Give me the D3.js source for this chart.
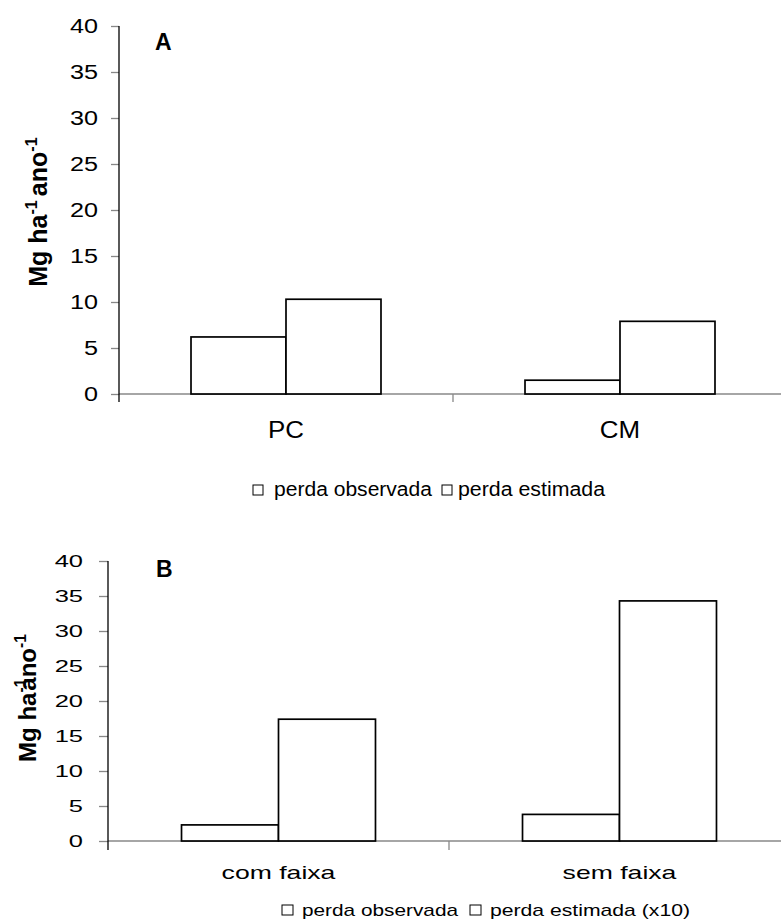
<!DOCTYPE html>
<html>
<head>
<meta charset="utf-8">
<script src="https://cdn.jsdelivr.net/npm/d3@7/dist/d3.min.js"></script>
<style>
body { margin: 0; background: #fff; }
text { font-family: Arial, "Liberation Sans", sans-serif; fill: #000; }
</style>
</head>
<body>
<svg id="chart" width="781" height="921"></svg>
<script>
// values (Mg ha-1 ano-1)
var seriesNames = ["perda observada", "perda estimada"];
var catsA = ["PC", "CM"];
var observadaA = [6.2, 1.5];
var estimadaA = [10.3, 7.9];
var catsB = ["com faixa", "sem faixa"];
var observadaB = [2.3, 3.8];
var estimadaB = [17.4, 34.3];
var yTicks = [0, 5, 10, 15, 20, 25, 30, 35, 40];
var legendA = ["perda observada", "perda estimada"];
var legendB = ["perda observada", "perda estimada (x10)"];

var svg = d3.select("#chart");
var grey = "#888";

// the figure's text is a bit wider than plain Arial, squeeze it out sideways
function widen(sel, sx) {
  sel.attr("transform", function() {
    var x = +d3.select(this).attr("x") || 0;
    return "translate(" + x + ",0) scale(" + sx + ",1) translate(" + (-x) + ",0)";
  });
}

function drawPanel(p) {
  var g = svg.append("g");

  var y = d3.scaleLinear().domain([0, 40]).range([p.bottom, p.top]);
  var x = d3.scaleBand().domain(p.cats).range([p.left, p.right]);
  var x1 = d3.scaleBand().domain(seriesNames)
    .range([0, x.bandwidth()]).paddingOuter(0.758);

  // x axis line + category boundary ticks (grey)
  g.append("line")
    .attr("x1", p.left).attr("x2", p.right)
    .attr("y1", y(0)).attr("y2", y(0))
    .attr("stroke", grey).attr("stroke-width", 1.3);

  var bounds = p.cats.map(function(c) { return x(c); }).concat([x.range()[1]]);
  g.selectAll(".bnd").data(bounds.slice(1)).enter().append("line")
    .attr("x1", function(d) { return d; }).attr("x2", function(d) { return d; })
    .attr("y1", y(0)).attr("y2", y(0) + p.tick)
    .attr("stroke", grey).attr("stroke-width", 1.3);

  // y axis
  var yAxis = g.append("g")
    .attr("transform", "translate(" + p.left + ",0)")
    .call(d3.axisLeft(y).tickValues(yTicks).tickSize(p.tick).tickSizeOuter(0).tickPadding(p.tickPad));
  yAxis.select(".domain").remove();
  yAxis.selectAll(".tick line").attr("stroke", grey).attr("stroke-width", 1.3);
  yAxis.selectAll(".tick text")
    .style("font-size", p.tickFont + "px")
    .style("font-family", "Arial, 'Liberation Sans', sans-serif")
    .call(widen, p.tickStretch);

  g.append("line")
    .attr("x1", p.left).attr("x2", p.left)
    .attr("y1", y(40)).attr("y2", y(0) + p.tick)
    .attr("stroke", "#000").attr("stroke-width", 1.3);

  // bars
  var rows = [];
  p.cats.forEach(function(c, i) {
    rows.push({ cat: c, s: seriesNames[0], v: p.obs[i] });
    rows.push({ cat: c, s: seriesNames[1], v: p.est[i] });
  });
  g.selectAll(".bar").data(rows).enter().append("rect")
    .attr("x", function(d) { return x(d.cat) + x1(d.s); })
    .attr("y", function(d) { return y(d.v); })
    .attr("width", x1.bandwidth())
    .attr("height", function(d) { return y(0) - y(d.v); })
    .attr("fill", "#fff").attr("stroke", "#000").attr("stroke-width", 1.7);

  // category labels
  var xAxis = g.append("g")
    .attr("transform", "translate(0," + y(0) + ")")
    .call(d3.axisBottom(x).tickSize(0).tickPadding(p.catPad));
  xAxis.select(".domain").remove();
  xAxis.selectAll(".tick text")
    .style("font-size", p.catFont + "px")
    .style("font-family", "Arial, 'Liberation Sans', sans-serif")
    .call(widen, p.catStretch);

  // panel letter
  g.append("text")
    .attr("x", p.letterX).attr("y", p.letterY)
    .style("font-size", p.letterFont + "px").style("font-weight", "bold")
    .text(p.letter);

  // y title with superscripts
  var t = g.append("text")
    .attr("transform", "translate(" + p.titleX + "," + p.titleY + ") rotate(-90)")
    .attr("text-anchor", "middle")
    .style("font-size", p.titleFont + "px").style("font-weight", "bold");
  t.append("tspan").text("Mg ha");
  t.append("tspan").attr("dy", -p.titleFont * 0.42).style("font-size", "65%").text("-1");
  t.append("tspan").attr("dy", p.titleFont * 0.42).attr("dx", p.supBack).text("ano");
  t.append("tspan").attr("dy", -p.titleFont * 0.42).style("font-size", "65%").text("-1");

  // legend
  var lg = g.selectAll(".leg").data(p.legend).enter().append("g");
  lg.append("rect")
    .attr("x", function(d, i) { return p.legBox[i]; })
    .attr("y", p.legY - p.legBoxH)
    .attr("width", p.legBoxW).attr("height", p.legBoxH)
    .attr("fill", "#fff").attr("stroke", "#000").attr("stroke-width", 1);
  lg.append("text")
    .attr("x", function(d, i) { return p.legText[i]; })
    .attr("y", p.legY + 1)
    .attr("textLength", function(d, i) { return p.legLen[i]; })
    .attr("lengthAdjust", "spacingAndGlyphs")
    .style("font-size", p.legFont + "px")
    .text(function(d) { return d; });
}

drawPanel({
  cats: catsA, obs: observadaA, est: estimadaA, legend: legendA,
  left: 119, right: 787, top: 26, bottom: 394, tick: 8,
  tickPad: 13, tickFont: 21, tickStretch: 1.2,
  catPad: 27, catFont: 24, catStretch: 1.08,
  letter: "A", letterX: 155, letterY: 50, letterFont: 23,
  titleX: 47, titleY: 212, titleFont: 25, supBack: 4,
  legY: 495, legBox: [253, 442], legBoxW: 10, legBoxH: 10,
  legText: [274, 458], legLen: [158, 147], legFont: 20
});

drawPanel({
  cats: catsB, obs: observadaB, est: estimadaB, legend: legendB,
  left: 108, right: 790, top: 561, bottom: 841, tick: 9,
  tickPad: 16, tickFont: 17, tickStretch: 1.5,
  catPad: 25, catFont: 19, catStretch: 1.4,
  letter: "B", letterX: 156, letterY: 577, letterFont: 23,
  titleX: 36, titleY: 698, titleFont: 24, supBack: -12,
  legY: 915, legBox: [282, 470], legBoxW: 11, legBoxH: 10,
  legText: [302, 490], legLen: [156, 200], legFont: 17
});
</script>
</body>
</html>
